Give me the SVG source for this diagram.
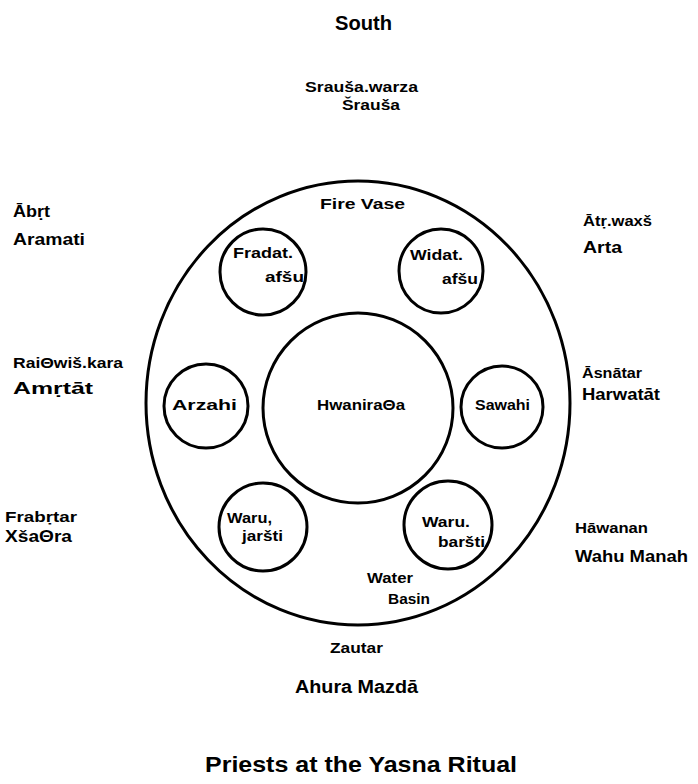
<svg xmlns="http://www.w3.org/2000/svg" width="698" height="784" viewBox="0 0 698 784">
<style>
text{font-family:"Liberation Sans",Arial,sans-serif;font-weight:bold;fill:#000}
.c{fill:none;stroke:#000;stroke-width:3}
</style>
<rect width="698" height="784" fill="#fff"/>
<g id="circles">
<g id="outer"><ellipse class="c" cx="358" cy="403" rx="212" ry="222"/><text x="320" y="209" font-size="14" textLength="85" lengthAdjust="spacingAndGlyphs">Fire  Vase</text><text x="367" y="583" font-size="15" textLength="46" lengthAdjust="spacingAndGlyphs">Water</text><text x="388" y="604" font-size="15" textLength="42" lengthAdjust="spacingAndGlyphs">Basin</text></g>
<g id="hwanirata"><circle class="c" cx="358" cy="408" r="95"/><text x="317" y="410" font-size="14" textLength="88" lengthAdjust="spacingAndGlyphs">HwaniraΘa</text></g>
<g id="fradat"><circle class="c" cx="263" cy="272" r="43"/><text x="233" y="258" font-size="14" textLength="60" lengthAdjust="spacingAndGlyphs">Fradat.</text><text x="265" y="282" font-size="14" textLength="39" lengthAdjust="spacingAndGlyphs">afšu</text></g>
<g id="widat"><circle class="c" cx="441" cy="271" r="42"/><text x="410" y="260" font-size="14" textLength="53" lengthAdjust="spacingAndGlyphs">Widat.</text><text x="442" y="284" font-size="14" textLength="36" lengthAdjust="spacingAndGlyphs">afšu</text></g>
<g id="arzahi"><circle class="c" cx="206" cy="406" r="42"/><text x="172" y="410" font-size="15" textLength="65" lengthAdjust="spacingAndGlyphs">Arzahi</text></g>
<g id="sawahi"><circle class="c" cx="502" cy="407" r="41"/><text x="475" y="410" font-size="15" textLength="55" lengthAdjust="spacingAndGlyphs">Sawahi</text></g>
<g id="warujarsti"><circle class="c" cx="263" cy="527" r="44"/><text x="227" y="523" font-size="15" textLength="45" lengthAdjust="spacingAndGlyphs">Waru,</text><text x="242" y="541" font-size="15" textLength="41" lengthAdjust="spacingAndGlyphs">jaršti</text></g>
<g id="warubarsti"><circle class="c" cx="448" cy="525" r="44"/><text x="422" y="527" font-size="15" textLength="48" lengthAdjust="spacingAndGlyphs">Waru.</text><text x="438" y="547" font-size="15" textLength="47" lengthAdjust="spacingAndGlyphs">baršti</text></g>
</g>
<g id="labels">
<text x="335" y="30" font-size="20" textLength="57" lengthAdjust="spacingAndGlyphs">South</text>
<g id="south"><text x="305" y="92" font-size="14.5" textLength="113" lengthAdjust="spacingAndGlyphs">Srauša.warza</text><text x="342" y="110" font-size="14.5" textLength="58" lengthAdjust="spacingAndGlyphs">Šrauša</text></g>
<g id="nw"><text x="13" y="217" font-size="16" textLength="37" lengthAdjust="spacingAndGlyphs">Ābṛt</text><text x="13" y="245" font-size="17" textLength="72" lengthAdjust="spacingAndGlyphs">Aramati</text></g>
<g id="ne"><text x="583" y="226" font-size="15" textLength="69" lengthAdjust="spacingAndGlyphs">Ātṛ.waxš</text><text x="583" y="253" font-size="17" textLength="39" lengthAdjust="spacingAndGlyphs">Arta</text></g>
<g id="w"><text x="13" y="368" font-size="15" textLength="110" lengthAdjust="spacingAndGlyphs">RaiΘwiš.kara</text><text x="13" y="394" font-size="17" textLength="80" lengthAdjust="spacingAndGlyphs">Amṛtāt</text></g>
<g id="e"><text x="582" y="378" font-size="15" textLength="60" lengthAdjust="spacingAndGlyphs">Āsnātar</text><text x="582" y="400" font-size="16" textLength="78" lengthAdjust="spacingAndGlyphs">Harwatāt</text></g>
<g id="sw"><text x="5" y="522" font-size="15.5" textLength="72" lengthAdjust="spacingAndGlyphs">Frabṛtar</text><text x="5" y="542" font-size="16" textLength="67" lengthAdjust="spacingAndGlyphs">XšaΘra</text></g>
<g id="se"><text x="575" y="533" font-size="15" textLength="73" lengthAdjust="spacingAndGlyphs">Hāwanan</text><text x="575" y="562" font-size="17" textLength="113" lengthAdjust="spacingAndGlyphs">Wahu Manah</text></g>
<g id="north"><text x="330" y="653" font-size="14" textLength="53" lengthAdjust="spacingAndGlyphs">Zautar</text><text x="295" y="693" font-size="18" textLength="123" lengthAdjust="spacingAndGlyphs">Ahura Mazdā</text></g>
<text x="205" y="772" font-size="22" textLength="312" lengthAdjust="spacingAndGlyphs">Priests  at  the Yasna Ritual</text>
</g>
</svg>
